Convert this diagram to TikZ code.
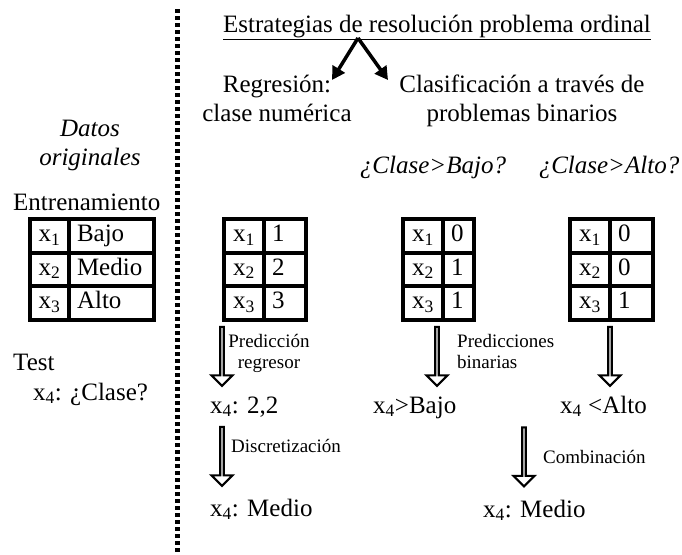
\documentclass[tikz,border=0pt]{standalone}
\usepackage{fontspec}
\setmainfont{Liberation Serif}
\usetikzlibrary{arrows.meta,shapes.arrows}

\begin{document}
\begin{tikzpicture}[
    x=1pt, y=-1pt,
    font=\fontsize{25}{29}\selectfont,
    txt/.style={anchor=base, inner sep=0pt, align=center},
    txtw/.style={anchor=base west, inner sep=0pt, align=left},
    ital/.style={txt, font=\fontsize{25}{29}\selectfont\itshape},
    lbl/.style={inner sep=0pt, font=\fontsize{19}{21}\selectfont},
    cell/.style={draw, line width=4pt, anchor=north west, minimum height=33.5pt, inner sep=0pt,
        text height=17pt, text depth=5pt},
    lcell/.style={cell, align=center},
    rcell/.style={cell, align=left, inner xsep=8pt},
    hollow/.style={single arrow, draw, fill=white, line width=2.2pt, shape border rotate=270,
        minimum height=59pt, minimum width=21pt, single arrow head extend=5.5pt, inner sep=0pt},
    splitarr/.style={line width=3.5pt, -{Triangle[length=13pt,width=14pt]}},
    sep/.style={line width=5pt, dash pattern=on 4pt off 3pt}
]
\useasboundingbox (0,0) rectangle (682,554);

% divider
\coordinate (sepTop) at (177.5,9);
\coordinate (sepBot) at (177.5,554);
\draw[sep] (sepTop) -- (sepBot);

% headings
\node[txt] (title) at (437,32) {\underline{Estrategias de resolución problema ordinal}};
\coordinate (apex) at (358,38);
\coordinate (regtip) at (332,80);
\coordinate (clstip) at (388,80);
\draw[splitarr] (apex) -- (regtip);
\draw[splitarr] (apex) -- (clstip);

\node[txt] (reg) at (277,121) {Regresión:\\clase numérica};
\node[txt] (cls) at (522,121) {Clasificación a través de\\problemas binarios};
\node[ital] (datos) at (90,165) {Datos\\originales};
\node[ital] (qbajo) at (433,173) {¿Clase>Bajo?};
\node[ital] (qalto) at (609,173) {¿Clase>Alto?};
\node[txtw] (train) at (13,210) {Entrenamiento};

% tables
\foreach \tab/\x/\wl/\wr/\tw/\va/\vb/\vc in {orig/28/39/85/69/Bajo/Medio/Alto,
    reg/222/40/42/26/1/2/3, bajo/401/40/31/15/0/1/1, alto/568/40/43/27/0/0/1}{
  \foreach \i/\v in {1/\va, 2/\vb, 3/\vc}{
    \node[lcell, minimum width=\wl pt] (\tab-l\i) at (\x, {217+33.5*(\i-1)}) {x\textsubscript{\i}};
    \node[rcell, text width=\tw pt] (\tab-r\i) at ({\x+\wl}, {217+33.5*(\i-1)}) {\v};
  }
}

% test sample
\node[txtw] (test) at (13,370) {Test};
\node[txtw] (xq) at (33,400) {x\textsubscript{4}: ¿Clase?};

% regression branch
\node[hollow] (arrpred) at (222,355.5) {};
\node[lbl, align=center, anchor=base] (lpred) at (269,368) {Predicción\\regresor};
\node[txtw] (rpred) at (210,413) {x\textsubscript{4}: 2,2};
\node[hollow] (arrdisc) at (222,455.5) {};
\node[lbl, anchor=base west] (ldisc) at (231,452) {Discretización};
\node[txtw] (rdisc) at (210,516) {x\textsubscript{4}: Medio};

% binary branch
\node[hollow] (arrbajo) at (437,355.5) {};
\node[hollow] (arralto) at (610,355.5) {};
\node[lbl, align=left, anchor=base west] (lbin) at (457,368) {Predicciones\\binarias};
\node[txtw] (rbajo) at (373,413) {x\textsubscript{4}>Bajo};
\node[txtw] (ralto) at (560,413) {x\textsubscript{4} <Alto};
\node[hollow] (arrcomb) at (524,456) {};
\node[lbl, anchor=base west] (lcomb) at (543,463) {Combinación};
\node[txtw] (rcomb) at (483,517) {x\textsubscript{4}: Medio};
\end{tikzpicture}
\end{document}
